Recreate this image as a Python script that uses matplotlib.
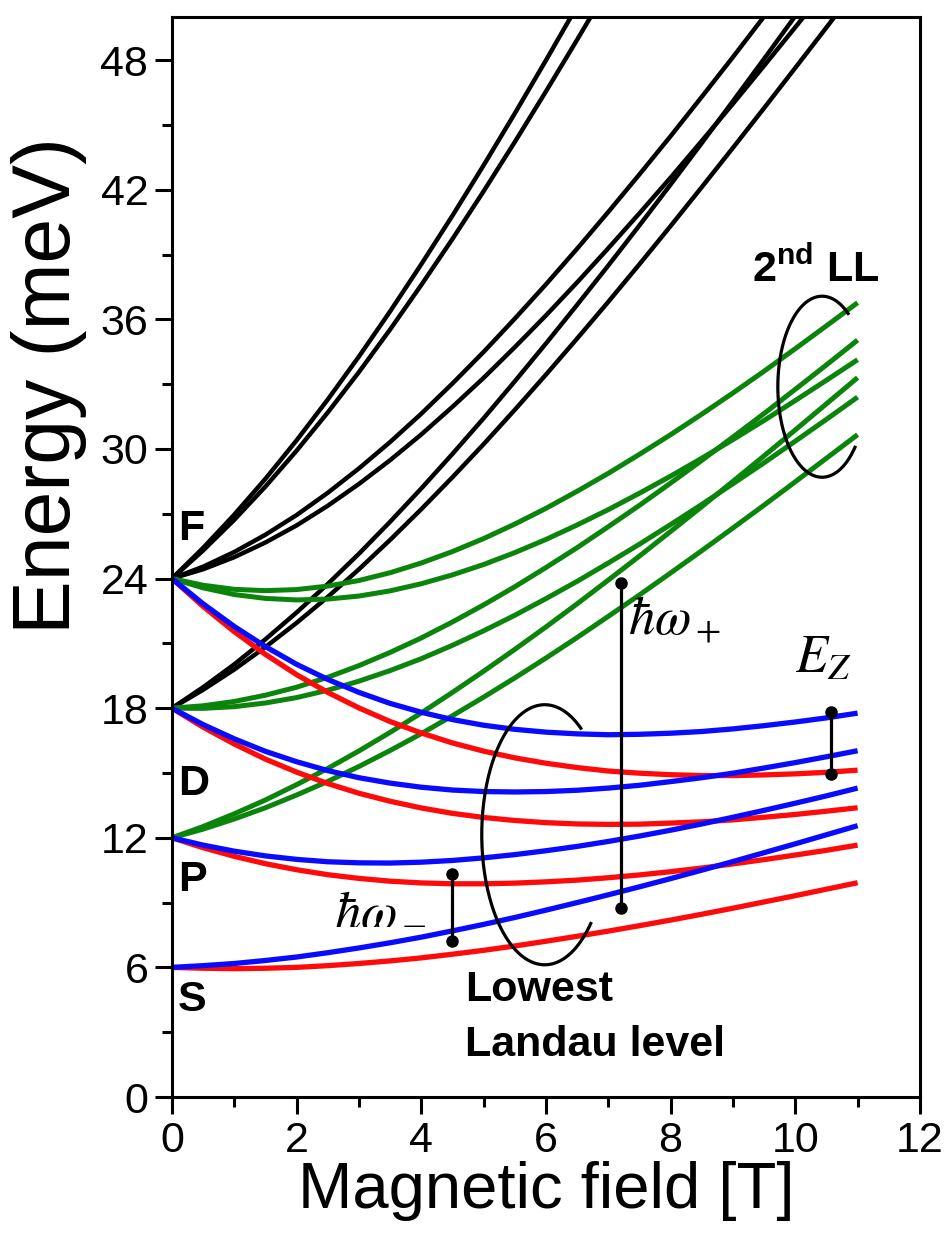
import numpy as np
import matplotlib
matplotlib.use('Agg')
import matplotlib.pyplot as plt
from matplotlib.ticker import MultipleLocator

plt.rcParams['font.family'] = ['Liberation Sans', 'DejaVu Sans']
plt.rcParams['mathtext.fontset'] = 'custom'
plt.rcParams['mathtext.rm'] = 'Liberation Sans'
plt.rcParams['mathtext.bf'] = 'Liberation Sans:bold'

# -------------------------
# Data (energy in meV vs field in T, 0.5 T steps)
# -------------------------
b_field = [0, 0.5, 1, 1.5, 2, 2.5, 3, 3.5, 4, 4.5, 5, 5.5,
           6, 6.5, 7, 7.5, 8, 8.5, 9, 9.5, 10, 10.5, 11]

# lowest Landau level: blue / red = the two spin branches
s_blue = [6.00, 6.08, 6.18, 6.32, 6.48, 6.68, 6.90, 7.14, 7.40, 7.69, 7.99, 8.31,
          8.65, 9.00, 9.36, 9.73, 10.11, 10.50, 10.90, 11.31, 11.72, 12.14, 12.56]
s_red = [6.00, 5.96, 5.94, 5.96, 6.00, 6.08, 6.18, 6.30, 6.44, 6.61, 6.79, 6.99,
         7.21, 7.44, 7.68, 7.93, 8.19, 8.46, 8.74, 9.03, 9.32, 9.62, 9.92]
p_blue = [12.00, 11.66, 11.38, 11.16, 11.00, 10.89, 10.84, 10.83, 10.87, 10.95, 11.07, 11.22,
          11.40, 11.60, 11.83, 12.08, 12.35, 12.64, 12.95, 13.27, 13.60, 13.94, 14.30]
p_red = [12.00, 11.54, 11.14, 10.80, 10.52, 10.29, 10.12, 9.99, 9.91, 9.87, 9.87, 9.90,
         9.96, 10.04, 10.15, 10.28, 10.43, 10.60, 10.79, 10.99, 11.20, 11.42, 11.66]
d_blue = [18.00, 17.24, 16.58, 16.00, 15.52, 15.11, 14.78, 14.53, 14.34, 14.21, 14.14, 14.12,
          14.14, 14.20, 14.30, 14.43, 14.60, 14.78, 14.99, 15.23, 15.48, 15.75, 16.03]
d_red = [18.00, 17.12, 16.34, 15.64, 15.04, 14.51, 14.06, 13.69, 13.38, 13.13, 12.94, 12.80,
         12.70, 12.64, 12.62, 12.63, 12.68, 12.74, 12.83, 12.95, 13.08, 13.23, 13.39]
f_blue = [24.00, 22.83, 21.78, 20.85, 20.03, 19.33, 18.73, 18.22, 17.81, 17.47, 17.21, 17.02,
          16.89, 16.81, 16.77, 16.79, 16.84, 16.92, 17.04, 17.19, 17.36, 17.55, 17.77]
f_red = [24.00, 22.71, 21.54, 20.49, 19.55, 18.73, 18.01, 17.38, 16.85, 16.39, 16.01, 15.70,
         15.45, 15.25, 15.09, 14.99, 14.92, 14.88, 14.88, 14.91, 14.96, 15.03, 15.13]

# 2nd Landau level (green)
ll2_a1 = [12.00, 12.52, 13.11, 13.75, 14.46, 15.21, 16.02, 16.88, 17.78, 18.73, 19.71, 20.72,
          21.76, 22.83, 23.93, 25.04, 26.18, 27.33, 28.50, 29.68, 30.88, 32.09, 33.30]
ll2_a2 = [12.00, 12.40, 12.87, 13.39, 13.98, 14.61, 15.30, 16.04, 16.82, 17.65, 18.51, 19.40,
          20.32, 21.27, 22.25, 23.24, 24.26, 25.29, 26.34, 27.40, 28.48, 29.57, 30.66]
ll2_b1 = [18.00, 18.11, 18.31, 18.60, 18.97, 19.43, 19.97, 20.58, 21.25, 21.99, 22.78, 23.62,
          24.51, 25.43, 26.40, 27.39, 28.42, 29.47, 30.55, 31.64, 32.76, 33.89, 35.04]
ll2_b2 = [18.00, 17.99, 18.07, 18.24, 18.49, 18.83, 19.25, 19.74, 20.29, 20.91, 21.58, 22.30,
          23.07, 23.87, 24.72, 25.59, 26.50, 27.43, 28.39, 29.36, 30.36, 31.37, 32.40]
ll2_c1 = [24.00, 23.69, 23.50, 23.44, 23.49, 23.65, 23.91, 24.27, 24.72, 25.25, 25.85, 26.52,
          27.25, 28.04, 28.87, 29.75, 30.66, 31.61, 32.59, 33.60, 34.64, 35.70, 36.77]
ll2_c2 = [24.00, 23.57, 23.26, 23.08, 23.01, 23.05, 23.19, 23.43, 23.76, 24.17, 24.65, 25.20,
          25.81, 26.48, 27.19, 27.95, 28.74, 29.57, 30.43, 31.32, 32.24, 33.18, 34.13]

# higher Landau levels (black), they leave through the top of the plot
hi_a1 = [18.00, 18.97, 20.03, 21.19, 22.43, 23.75, 25.15, 26.63, 28.17, 29.77, 31.42,
         33.13, 34.88, 36.67, 38.49, 40.35, 42.24, 44.16, 46.10, 48.06, 50.04, 52.03]
hi_a2 = [18.00, 18.85, 19.79, 20.83, 21.95, 23.15, 24.43, 25.79, 27.21, 28.69, 30.22, 31.81,
         33.44, 35.11, 36.81, 38.55, 40.32, 42.12, 43.94, 45.78, 47.64, 49.51, 51.41]
hi_b1 = [24.00, 24.55, 25.23, 26.03, 26.94, 27.97, 29.10, 30.32, 31.63, 33.03, 34.49,
         36.03, 37.62, 39.27, 40.97, 42.71, 44.48, 46.30, 48.14, 50.02, 51.92]
hi_b2 = [24.00, 24.43, 24.99, 25.67, 26.46, 27.37, 28.38, 29.48, 30.67, 31.95, 33.29,
         34.71, 36.18, 37.71, 39.29, 40.91, 42.56, 44.26, 45.98, 47.74, 49.52, 51.32]
hi_c1 = [24.00, 25.42, 26.96, 28.62, 30.40, 32.29, 34.28, 36.37, 38.55, 40.80, 43.13,
         45.53, 47.99, 50.50, 53.06]
hi_c2 = [24.00, 25.30, 26.72, 28.26, 29.92, 31.69, 33.56, 35.53, 37.59, 39.72, 41.93,
         44.21, 46.55, 48.94, 51.38]

GREEN = '#0b840b'
RED = '#ff0a0a'
BLUE = '#0a0aff'

fig = plt.figure(figsize=(9.48, 12.33), dpi=100)
ax = fig.add_axes([0.1814, 0.1103, 0.789, 0.876])

for ys in [hi_a1, hi_a2, hi_b1, hi_b2, hi_c1, hi_c2]:
    ax.plot(b_field[:len(ys)], ys, color='black', lw=3.2, solid_capstyle='butt')

for ys in [ll2_a1, ll2_a2, ll2_b1, ll2_b2, ll2_c1, ll2_c2]:
    ax.plot(b_field, ys, color=GREEN, lw=3.6, solid_capstyle='butt')

for ys in [s_red, p_red, d_red, f_red]:
    ax.plot(b_field, ys, color=RED, lw=3.8, solid_capstyle='butt')
for ys in [s_blue, p_blue, d_blue, f_blue]:
    ax.plot(b_field, ys, color=BLUE, lw=3.8, solid_capstyle='butt')

# -------------------------
# Annotations
# -------------------------
def bar(x, y0, y1):
    ax.plot([x, x], [y0, y1], '-o', color='black', lw=2.3, ms=8)

bar(7.2, 8.76, 23.8)     # hbar omega_+
bar(10.58, 14.96, 17.8)  # Zeeman
bar(4.5, 7.2, 10.3)      # hbar omega_-

def open_ellipse(cx, cy, a, b, t0, t1):
    t = np.deg2rad(np.linspace(t0, t1, 200))
    ax.plot(cx + a * np.cos(t), cy + b * np.sin(t), color='black', lw=2.3)

open_ellipse(5.98, 12.14, 1.01, 6.02, 55, 317)
open_ellipse(10.43, 32.88, 0.71, 4.19, 54, 318)

bold = dict(fontsize=31, fontweight='bold', va='center', ha='left')
ax.text(0.1, 26.3, 'F', **bold)
ax.text(0.1, 14.5, 'D', **bold)
ax.text(0.1, 10.05, 'P', **bold)
ax.text(0.1, 4.5, 'S', **bold)
ax.text(4.7, 4.96, 'Lowest', **bold)
ax.text(4.7, 2.4, 'Landau level', **bold)
ax.text(9.3, 38.3, r'$\mathbf{2^{nd}}$ LL', **bold)

mt = dict(fontsize=38, math_fontfamily='stix', va='center', ha='left')
ax.text(7.32, 22.1, r'$\hbar\omega_+$', **mt)
ax.text(10.0, 20.3, r'$E_Z$', **mt)
ax.text(2.6, 8.7, r'$\hbar\omega_-$', **mt)

# -------------------------
# Axes
# -------------------------
ax.set_xlim(0, 12)
ax.set_ylim(0, 50)
ax.xaxis.set_major_locator(MultipleLocator(2))
ax.xaxis.set_minor_locator(MultipleLocator(1))
ax.yaxis.set_major_locator(MultipleLocator(6))
ax.yaxis.set_minor_locator(MultipleLocator(3))
ax.tick_params(which='both', direction='out', width=2.2, labelsize=31)
ax.tick_params(which='major', length=12, pad=5)
ax.tick_params(which='minor', length=7)
for sp in ax.spines.values():
    sp.set_linewidth(2.2)

ax.set_xlabel('Magnetic field [T]', fontsize=47, labelpad=0)
ax.set_ylabel('Energy (meV)', fontsize=58, va='center')
ax.yaxis.set_label_coords(-0.165, 0.659)

fig.savefig('out.png', dpi=100)
